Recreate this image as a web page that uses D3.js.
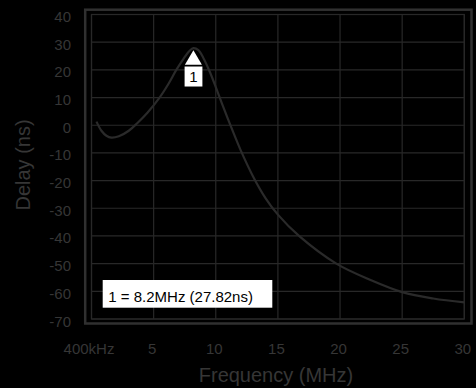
<!DOCTYPE html>
<html><head><meta charset="utf-8">
<script src="https://cdn.jsdelivr.net/npm/d3@7/dist/d3.min.js"></script>
<style>html,body{margin:0;padding:0;background:#000;}svg{display:block;}</style>
</head><body>
<svg id="c" width="476" height="388"></svg>
<script>
const freqMHz = [0.4,0.8,1.2,1.6,2.2,3.0,3.7,4.5,5.4,6.2,6.8,7.4,7.9,8.2,8.6,9.0,9.5,10.0,10.5,11.0,11.5,12.0,13.0,14.0,15.0,16.7,19.7,22.5,25,27.5,30];
const delayNs = [1.3,-2.0,-3.8,-4.5,-4.0,-2.0,0.8,4.5,9.5,15.0,19.8,24.0,26.9,27.82,27.1,24.3,19.5,13.8,7.8,2.0,-3.6,-9.0,-18.5,-26.3,-32.3,-40,-50,-56.0,-60.3,-62.6,-64];
const xTickValues = [0,5,10,15,20,25,30];
const xTickLabels = ["400kHz","5","10","15","20","25","30"];
const yTickValues = [40,30,20,10,0,-10,-20,-30,-40,-50,-60,-70];
const markerFreq = 8.2, markerDelay = 27.82, markerLabel = "1";
const legendText = "1 = 8.2MHz (27.82ns)";

const svg = d3.select("#c");
const L = 91.5, R = 464.3, T = 14.5, B = 319;
const x = d3.scaleLinear().domain([0,30]).range([L,R]);
const y = d3.scaleLinear().domain([-70,40]).range([B,T]);
const gridC = "#282828", textC = "#363636", font = "Liberation Sans, Arial, Helvetica, sans-serif";

svg.append("rect").attr("width",476).attr("height",388).attr("fill","#000");
// outer frame
svg.append("rect").attr("x",85.2).attr("y",9.7).attr("width",471.5-85.2).attr("height",323.5-9.7)
  .attr("fill","none").attr("stroke","#303030").attr("stroke-width",2.5);
// grid
svg.append("g").selectAll("line").data(yTickValues).join("line")
  .attr("x1",L).attr("x2",R).attr("y1",d=>y(d)).attr("y2",d=>y(d))
  .attr("stroke",gridC).attr("stroke-width",1.2);
svg.append("g").selectAll("line").data(xTickValues).join("line")
  .attr("y1",T).attr("y2",B).attr("x1",d=>x(d)).attr("x2",d=>x(d))
  .attr("stroke",gridC).attr("stroke-width",1.2);
svg.append("rect").attr("x",L).attr("y",T).attr("width",R-L).attr("height",B-T)
  .attr("fill","none").attr("stroke",gridC).attr("stroke-width",1.2);

// y tick labels
svg.append("g").selectAll("text").data(yTickValues).join("text")
  .attr("x",71).attr("y",d=>y(d)+7.5).attr("text-anchor","end")
  .attr("font-family",font).attr("font-size",15).attr("fill",textC).text(d=>d);
// x tick labels
svg.append("g").selectAll("text").data(xTickValues).join("text")
  .attr("x",(d,i)=>i===0?x(d)-2.5:x(d)-1.5).attr("y",353.5).attr("text-anchor","middle")
  .attr("font-family",font).attr("font-size",15).attr("fill",textC).text((d,i)=>xTickLabels[i]);

// axis titles
svg.append("text").attr("x",276).attr("y",382).attr("text-anchor","middle")
  .attr("font-family",font).attr("font-size",20).attr("fill",textC).text("Frequency (MHz)");
svg.append("text").attr("transform","translate(30,165) rotate(-90)").attr("text-anchor","middle")
  .attr("font-family",font).attr("font-size",20).attr("fill",textC).text("Delay (ns)");

// curve
const pts = freqMHz.map((f,i)=>[f,delayNs[i]]);
svg.append("path").datum(pts)
  .attr("d",d3.line().x(d=>x(d[0])).y(d=>y(d[1])).curve(d3.curveCatmullRom.alpha(0.5)))
  .attr("fill","none").attr("stroke","#2a2a2a").attr("stroke-width",2.2);

// marker
const mx = x(markerFreq), my = y(markerDelay)+2;
svg.append("path").attr("d",`M${mx},${my}L${mx+8.5},${my+14.5}L${mx-8.5},${my+14.5}Z`).attr("fill","#fff");
svg.append("rect").attr("x",mx-8.8).attr("y",my+16.3).attr("width",17.8).attr("height",20).attr("fill","#fff");
svg.append("text").attr("x",mx).attr("y",my+32).attr("text-anchor","middle")
  .attr("font-family",font).attr("font-size",15).attr("fill","#000").text(markerLabel);

// legend
svg.append("rect").attr("x",102.7).attr("y",280).attr("width",169.6).attr("height",27.7).attr("fill","#fff");
svg.append("text").attr("x",108.3).attr("y",301.5)
  .attr("font-family",font).attr("font-size",15).attr("fill","#000").text(legendText);
</script>
</body></html>
